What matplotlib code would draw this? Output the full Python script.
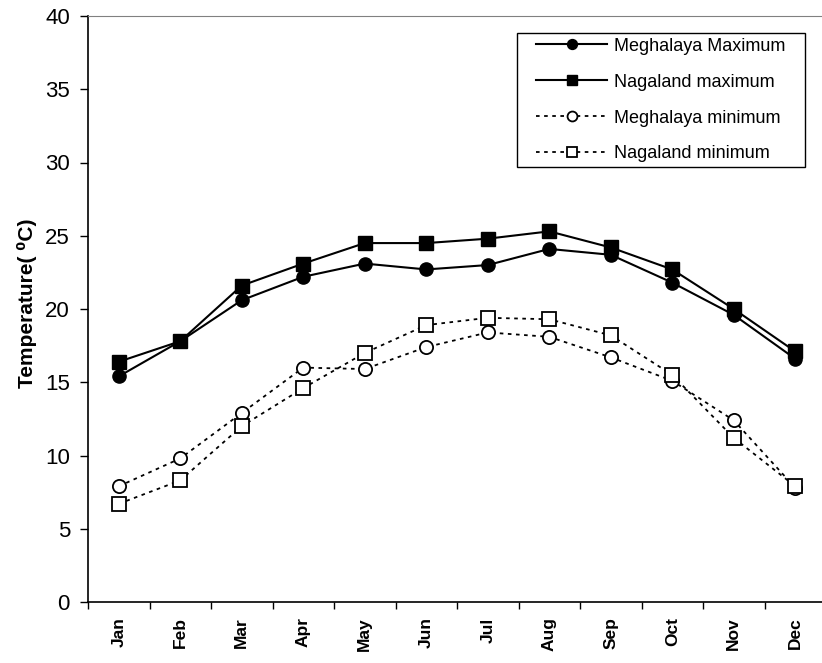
import numpy as np
import matplotlib
matplotlib.use("Agg")
from matplotlib import pyplot as plt

plt.rcParams['font.family'] = ['Liberation Sans', 'DejaVu Sans']

months = ["Jan", "Feb", "Mar", "Apr", "May", "Jun",
          "Jul", "Aug", "Sep", "Oct", "Nov", "Dec"]

# monthly temperatures (deg C)
megh_max = [15.4, 17.8, 20.6, 22.2, 23.1, 22.7, 23.0, 24.1, 23.7, 21.8, 19.6, 16.6]
naga_max = [16.4, 17.8, 21.6, 23.1, 24.5, 24.5, 24.8, 25.3, 24.2, 22.7, 20.0, 17.1]
megh_min = [7.9, 9.8, 12.9, 16.0, 15.9, 17.4, 18.4, 18.1, 16.7, 15.1, 12.4, 7.8]
naga_min = [6.7, 8.3, 12.0, 14.6, 17.0, 18.9, 19.4, 19.3, 18.2, 15.5, 11.2, 7.9]

W, H = 822, 663
fig = plt.figure(figsize=(W / 100, H / 100), dpi=100)
ax = fig.add_axes([88 / W, 61 / H, (826 - 88) / W, (602 - 16) / H])

x = np.arange(len(months))
dash = (0, (2, 2.5))
ax.plot(x, megh_max, color="black", lw=1.5, marker="o", ms=9.5,
        label="Meghalaya Maximum")
ax.plot(x, naga_max, color="black", lw=1.5, marker="s", ms=9.5,
        label="Nagaland maximum")
ax.plot(x, megh_min, color="black", lw=1.3, ls=dash, marker="o", ms=9.5,
        mfc="white", mew=1.3, label="Meghalaya minimum")
ax.plot(x, naga_min, color="black", lw=1.3, ls=dash, marker="s", ms=9.5,
        mfc="white", mew=1.3, label="Nagaland minimum")

ax.set_xlim(-0.5, len(months) - 0.5)
ax.set_ylim(0, 40)
ax.set_yticks(np.arange(0, 41, 5))
ax.tick_params(axis="y", direction="out", length=6, width=1, pad=7, labelsize=16)

ax.set_xticks(x)
ax.set_xticklabels(months, rotation=90, fontweight="bold", fontsize=12.5)
ax.set_xticks(np.arange(-0.5, len(months)), minor=True)
ax.tick_params(axis="x", which="major", length=0, pad=11)
ax.tick_params(axis="x", which="minor", direction="out", length=5, width=1)

ax.spines["top"].set_color("#808080")
ax.spines["right"].set_color("#808080")
for s in ("left", "bottom"):
    ax.spines[s].set_linewidth(1.2)

ax.set_ylabel("Temperature( \u2070C)", fontsize=15, fontweight="bold")
ax.yaxis.set_label_coords(-0.069, 0.51)

leg = ax.legend(loc="upper right", bbox_transform=fig.transFigure,
                bbox_to_anchor=(789 / W, 1 - 34 / H), borderaxespad=0,
                fontsize=13, handlelength=3.9, handletextpad=0.4,
                labelspacing=1.05, borderpad=0.2, markerscale=0.75,
                fancybox=False, edgecolor="black", framealpha=1)
leg.get_frame().set_linewidth(1.0)
leg.get_frame().set_boxstyle("square", pad=0.9)
leg.get_frame().set_mutation_aspect(0.08)

fig.savefig("out.png", dpi=100)
